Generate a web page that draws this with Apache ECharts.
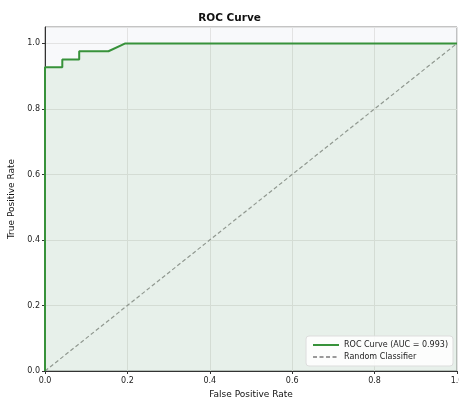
<!DOCTYPE html>
<html><head><meta charset="utf-8">
<script src="https://cdn.jsdelivr.net/npm/echarts@6/dist/echarts.min.js"></script>
<style>html,body{margin:0;padding:0;background:#fff}#c{width:459px;height:401px}</style>
</head><body><div id="c"></div>
<script>
const fpr = [0, 0, 0.042, 0.042, 0.083, 0.083, 0.154, 0.195, 1.0];
const tpr = [0, 0.927, 0.927, 0.951, 0.951, 0.976, 0.976, 1.0, 1.0];
const randX = [0, 1];
const randY = [0, 1];
const xTicks = [0, 0.2, 0.4, 0.6, 0.8, 1.0];
const yTicks = [0, 0.2, 0.4, 0.6, 0.8, 1.0];
const rocName = 'ROC Curve (AUC = 0.993)';
const randName = 'Random Classifier';

const font = 'DejaVu Sans';
const chart = echarts.init(document.getElementById('c'), null, {renderer: 'canvas'});
chart.setOption({
  animation: false,
  backgroundColor: '#ffffff',
  title: {text: 'ROC Curve', left: 'center', top: 8,
    textStyle: {fontFamily: font, fontSize: 10.5, fontWeight: 'bold', color: '#111'}},
  grid: {left: 45, right: 2, top: 27, bottom: 30, show: true, outerBoundsMode: 'none', containLabel: false,
    backgroundColor: '#f8f9fb', borderColor: '#888', borderWidth: 1},
  legend: {right: 6, bottom: 35, orient: 'vertical', itemWidth: 26, itemHeight: 8, itemGap: 4,
    backgroundColor: 'rgba(255,255,255,0.85)', borderColor: '#ddd', borderWidth: 1, borderRadius: 3,
    padding: [5, 5, 5, 6],
    itemStyle: {opacity: 0},
    textStyle: {fontFamily: font, fontSize: 8, color: '#222'},
    data: [rocName, randName]},
  xAxis: {type: 'value', min: 0, max: 1.0, interval: 0.2,
    name: 'False Positive Rate', nameLocation: 'middle', nameGap: 18,
    nameTextStyle: {fontFamily: font, fontSize: 9, color: '#111'},
    axisLine: {show: true, lineStyle: {color: '#333', width: 1}},
    axisTick: {show: true, length: 3, lineStyle: {color: '#333'}},
    axisLabel: {fontFamily: font, fontSize: 8, color: '#222', margin: 6,
      formatter: v => xTicks.some(t => Math.abs(t - v) < 1e-9) ? v.toFixed(1) : ''},
    splitLine: {show: true, lineStyle: {color: '#e3e3e3', width: 1}}},
  yAxis: {type: 'value', min: 0, max: 1.05, interval: 0.2,
    name: 'True Positive Rate', nameLocation: 'middle', nameGap: 25,
    nameTextStyle: {fontFamily: font, fontSize: 9, color: '#111'},
    axisLine: {show: true, lineStyle: {color: '#333', width: 1}},
    axisTick: {show: true, length: 3, lineStyle: {color: '#333'}},
    axisLabel: {fontFamily: font, fontSize: 8, color: '#222', margin: 5, showMaxLabel: false,
      formatter: v => yTicks.some(t => Math.abs(t - v) < 1e-9) ? v.toFixed(1) : ''},
    splitLine: {show: true, lineStyle: {color: '#e3e3e3', width: 1}}},
  series: [
    {name: rocName, type: 'line', showSymbol: false, symbol: 'none',
      data: fpr.map((x, i) => [x, tpr[i]]),
      lineStyle: {color: '#37923a', width: 2},
      itemStyle: {color: '#37923a'},
      areaStyle: {color: 'rgba(55,146,58,0.12)', origin: 'start'}, z: 3},
    {name: randName, type: 'line', showSymbol: false, symbol: 'none',
      data: randX.map((x, i) => [x, randY[i]]),
      lineStyle: {color: '#999', width: 1.2, type: [4, 2.5]},
      itemStyle: {color: '#999'}, z: 2}
  ]
});
</script></body></html>
